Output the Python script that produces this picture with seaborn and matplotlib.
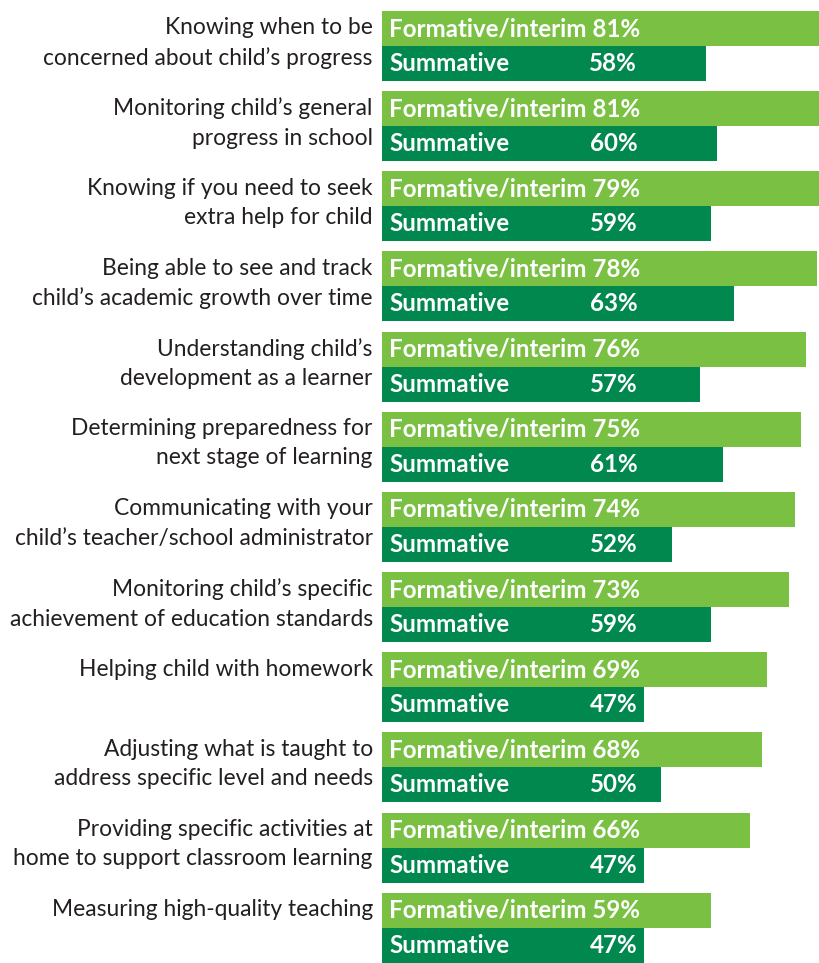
import numpy as np
import pandas as pd
import matplotlib
matplotlib.use("Agg")
import matplotlib.pyplot as plt
import seaborn as sns

categories = [
    "Knowing when to be\nconcerned about child\u2019s progress",
    "Monitoring child\u2019s general\nprogress in school",
    "Knowing if you need to seek\nextra help for child",
    "Being able to see and track\nchild\u2019s academic growth over time",
    "Understanding child\u2019s\ndevelopment as a learner",
    "Determining preparedness for\nnext stage of learning",
    "Communicating with your\nchild\u2019s teacher/school administrator",
    "Monitoring child\u2019s specific\nachievement of education standards",
    "Helping child with homework",
    "Adjusting what is taught to\naddress specific level and needs",
    "Providing specific activities at\nhome to support classroom learning",
    "Measuring high-quality teaching",
]
formative = [81, 81, 79, 78, 76, 75, 74, 73, 69, 68, 66, 59]
summative = [58, 60, 59, 63, 57, 61, 52, 59, 47, 50, 47, 47]
series = ["Formative/interim", "Summative"]
colors = ["#7ac143", "#00884f"]

df = pd.DataFrame({
    "category": categories * 2,
    "type": [series[0]] * len(categories) + [series[1]] * len(categories),
    "value": formative + summative,
})

sns.set_style("white")
plt.rcParams["font.family"] = ["Lato", "DejaVu Sans"]

fig = plt.figure(figsize=(8.19, 9.63), dpi=100)
ax = fig.add_axes([382.3 / 819, 0, 1 - 382.3 / 819, 1])

width = 0.873
sns.barplot(data=df, y="category", x="value", hue="type", hue_order=series,
            palette=colors, orient="h", width=width, dodge=True, gap=0,
            legend=False, ax=ax, saturation=1, linewidth=0)

ax.set_xlim(0, 78.3)
ax.set_ylim(11.44, -0.574)
ax.axis("off")

half = width / 4
for i, cat in enumerate(categories):
    ax.text(-1.7, i - width / 2 + 0.08, cat, ha="right", va="top",
            fontsize=16.4, color="#231f20", linespacing=1.48, clip_on=False)
    ax.text(1.2, i - half, "Formative/interim %d%%" % formative[i], ha="left",
            va="center", fontsize=17.4, fontweight="bold", color="white")
    ax.text(1.2, i + half, "Summative", ha="left", va="center",
            fontsize=17.4, fontweight="bold", color="white")
    ax.text(45.7, i + half, "%d%%" % summative[i], ha="right", va="center",
            fontsize=17.4, fontweight="bold", color="white")

fig.savefig("out.png", dpi=100)
